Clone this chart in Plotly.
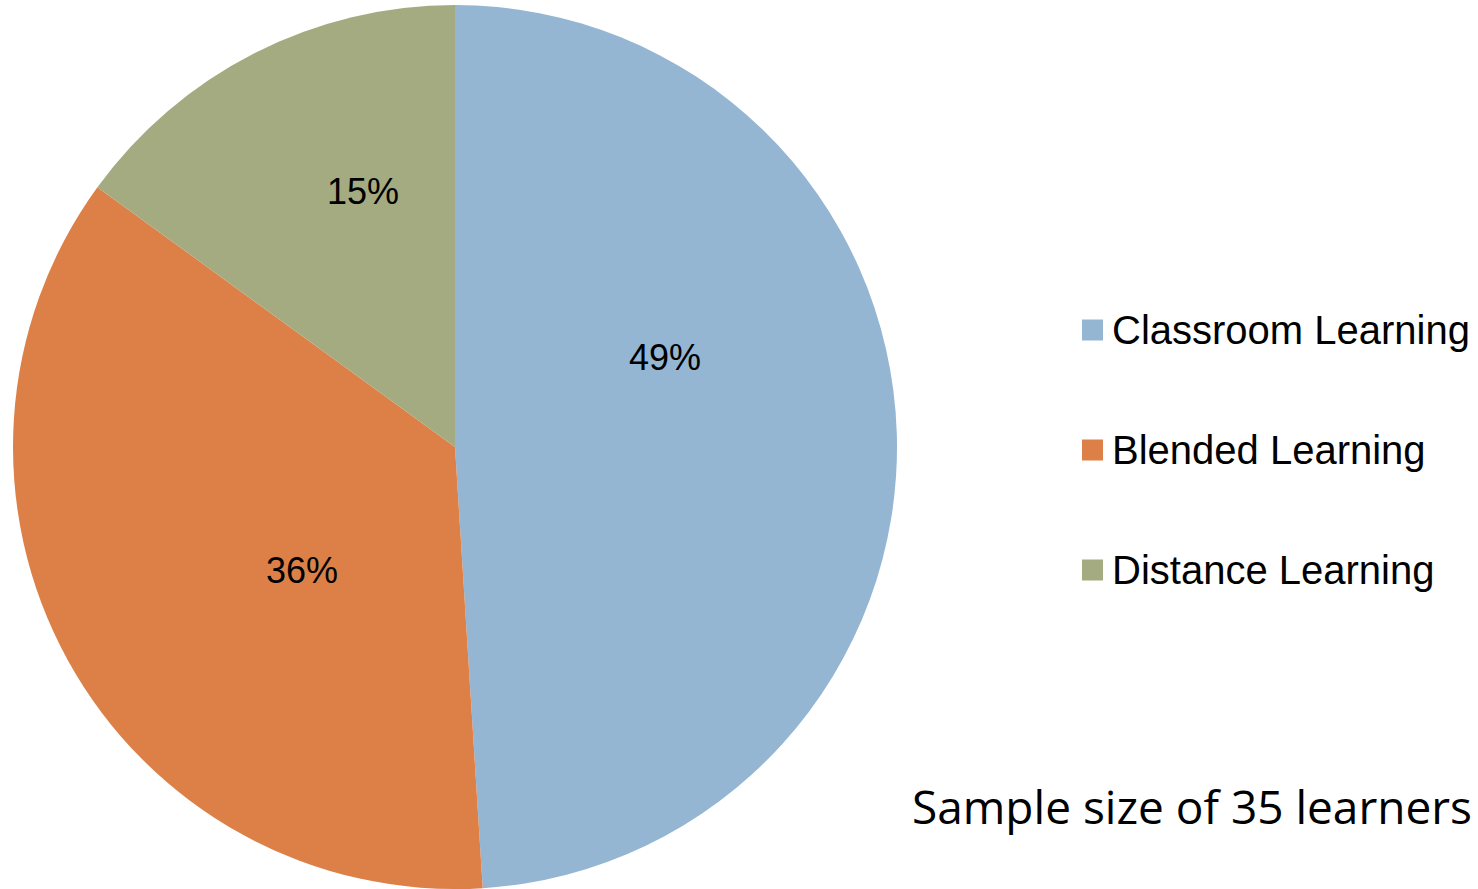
import plotly.graph_objects as go

W, H = 1478, 889

categories = ["Classroom Learning", "Blended Learning", "Distance Learning"]
values = [49, 36, 15]
colors = ["#94B6D2", "#DD8047", "#A5AB81"]
note = "Sample size of 35 learners"

# pixel positions of the data labels (layout only, as placed in the reference)
label_pos = [(665, 358), (302, 570), (363, 191)]

fig = go.Figure(go.Pie(
    labels=categories,
    values=values,
    sort=False,
    direction="clockwise",
    rotation=0,
    marker=dict(colors=colors, line=dict(width=0)),
    textinfo="none",
    domain=dict(x=[13 / W, 897 / W], y=[0, (H - 5) / H]),
    showlegend=False,
    hoverinfo="label+percent",
))

total = sum(values)
shapes, annotations = [], []

# data labels
for v, (px, py) in zip(values, label_pos):
    annotations.append(dict(text=f"{round(100 * v / total)}%", xref="paper", yref="paper",
                            x=px / W, y=1 - py / H, xanchor="center", yanchor="middle",
                            showarrow=False,
                            font=dict(family="Liberation Sans, Arial", size=36, color="black")))

# manual legend (large square swatches as in the reference)
leg_y = [330, 450, 570]
for cat, col, yc in zip(categories, colors, leg_y):
    shapes.append(dict(type="rect", xref="paper", yref="paper",
                       x0=1082 / W, x1=1103 / W,
                       y0=1 - (yc + 10.5) / H, y1=1 - (yc - 10.5) / H,
                       fillcolor=col, line=dict(width=0)))
    annotations.append(dict(text=cat, xref="paper", yref="paper",
                            x=1110 / W, y=1 - yc / H, xanchor="left", yanchor="middle",
                            showarrow=False,
                            font=dict(family="Liberation Sans, Arial", size=40, color="black")))

annotations.append(dict(text=note, xref="paper", yref="paper",
                        x=910 / W, y=1 - 806 / H, xanchor="left", yanchor="middle",
                        showarrow=False,
                        font=dict(family="Open Sans", size=46, color="black")))

fig.update_layout(
    width=W, height=H,
    margin=dict(l=0, r=0, t=0, b=0),
    paper_bgcolor="white", plot_bgcolor="white",
    shapes=shapes, annotations=annotations,
)

fig.write_html("out.html")
